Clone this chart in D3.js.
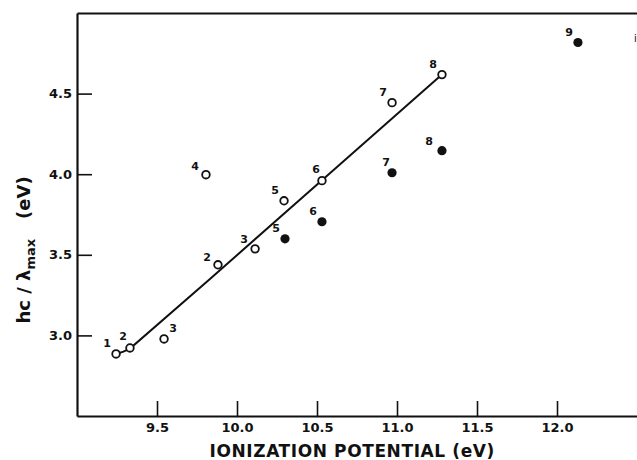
<!DOCTYPE html>
<html>
<head>
<meta charset="utf-8">
<script src="https://cdn.jsdelivr.net/npm/d3@7"></script>
<style>
    body { margin: 0; background: #fff; }
    #chart { width: 637px; height: 460px; }
    text { font-family: "DejaVu Sans", sans-serif; font-weight: bold; fill: #111; }
</style>
</head>
<body>
<div id="chart"></div>
<script>
//Datos
const openLabels = ['1', '2', '3', '2', '3', '4', '5', '6', '7', '8'],
    openX = [9.244, 9.331, 9.544, 9.881, 10.113, 9.806, 10.294, 10.531, 10.969, 11.281],
    openY = [2.885, 2.922, 2.978, 3.438, 3.537, 3.997, 3.835, 3.960, 4.444, 4.618];

const filledLabels = ['5', '6', '7', '8', '9'],
    filledX = [10.300, 10.531, 10.969, 11.281, 12.131],
    filledY = [3.599, 3.705, 4.009, 4.146, 4.817];

//Curva ajustada
const fitX = [9.244, 9.290, 9.331, 9.831, 10.531, 11.281],
    fitY = [2.885, 2.899, 2.918, 3.350, 3.962, 4.618];

const xTicks = [9.5, 10.0, 10.5, 11.0, 11.5, 12.0],
    yTicks = [3.0, 3.5, 4.0, 4.5];

//Desplazamiento de las etiquetas (px)
const LABEL_DX = -9, LABEL_DY = -10;
const openLabelShift = { 2: [9, -10], 1: [-7, -11], 7: [-6, -11], 3: [-11, -7], 5: [-11, -8], 4: [-11, -9] };
const filledLabelShift = { 3: [-13, -9], 2: [-6, -10] };

const COLOR_INK = '#111';

let margin = {top: 13, right: 0, bottom: 44, left: 77},
    width = 637 - margin.left - margin.right,
    height = 460 - margin.top - margin.bottom;

let svg = d3.select('#chart')
    .append('svg')
        .attr('width', width + margin.left + margin.right)
        .attr('height', height + margin.top + margin.bottom)
    .append('g')
        .attr('transform', 'translate(' + margin.left + ',' + margin.top + ')');

let x = d3.scaleLinear()
    .domain([9.0, 12.5])
    .range([0, width]);

let y = d3.scaleLinear()
    .domain([2.5, 5.0])
    .range([height, 0]);

//Ejes
let xAxis = svg.append('g')
    .attr('transform', 'translate(0,' + height + ')')
    .call(d3.axisBottom(x).tickValues(xTicks).tickSizeInner(-15).tickSizeOuter(0).tickPadding(7)
        .tickFormat(d3.format('.1f')));

let yAxis = svg.append('g')
    .call(d3.axisLeft(y).tickValues(yTicks).tickSizeInner(-15).tickSizeOuter(0).tickPadding(5)
        .tickFormat(d3.format('.1f')));

let topAxis = svg.append('g')
    .call(d3.axisTop(x).tickValues([]).tickSizeOuter(0));

[xAxis, yAxis, topAxis].forEach(function(g) {
    g.select('.domain').attr('stroke', COLOR_INK).attr('stroke-width', 2.2);
    g.selectAll('.tick line').attr('stroke', COLOR_INK).attr('stroke-width', 1.6);
    g.selectAll('.tick text')
        .style('font-size', '13px')
        .style('font-family', '"DejaVu Sans", sans-serif')
        .style('font-weight', 'bold')
        .attr('fill', COLOR_INK);
});

//Titulos de ejes
svg.append('text')
    .attr('x', x(10.72))
    .attr('y', height + 41)
    .attr('text-anchor', 'middle')
    .style('font-size', '17px')
    .style('letter-spacing', '0.6px')
    .text('IONIZATION POTENTIAL  (eV)');

let yTitle = svg.append('text')
    .attr('transform', 'translate(' + (-47) + ',' + y(3.53) + ') rotate(-90)')
    .attr('text-anchor', 'middle')
    .style('font-size', '18px');

yTitle.append('tspan').text('hc / λ');
yTitle.append('tspan').attr('dy', 5).style('font-size', '13px').text('max');
yTitle.append('tspan').attr('dy', -5).attr('dx', 20).text('(eV)');

//Curva
let fitData = fitX.map(function(d, i) { return [d, fitY[i]]; });

svg.append('path')
    .datum(fitData)
    .attr('fill', 'none')
    .attr('stroke', COLOR_INK)
    .attr('stroke-width', 2)
    .attr('d', d3.line()
        .x(function(d) { return x(d[0]); })
        .y(function(d) { return y(d[1]); })
        .curve(d3.curveLinear));

//Puntos
let openData = openX.map(function(d, i) { return {x: d, y: openY[i], label: openLabels[i], i: i}; });
let filledData = filledX.map(function(d, i) { return {x: d, y: filledY[i], label: filledLabels[i], i: i}; });

svg.selectAll('.open')
    .data(openData)
    .enter()
    .append('circle')
    .attr('class', 'open')
    .attr('cx', function(d) { return x(d.x); })
    .attr('cy', function(d) { return y(d.y); })
    .attr('r', 3.8)
    .attr('fill', '#fff')
    .attr('stroke', COLOR_INK)
    .attr('stroke-width', 1.8);

svg.selectAll('.filled')
    .data(filledData)
    .enter()
    .append('circle')
    .attr('class', 'filled')
    .attr('cx', function(d) { return x(d.x); })
    .attr('cy', function(d) { return y(d.y); })
    .attr('r', 4.6)
    .attr('fill', COLOR_INK);

function addLabels(data, shift, cls) {
    svg.selectAll('.' + cls)
        .data(data)
        .enter()
        .append('text')
        .attr('class', cls)
        .attr('x', function(d) { return x(d.x) + (shift[d.i] ? shift[d.i][0] : LABEL_DX); })
        .attr('y', function(d) { return y(d.y) + (shift[d.i] ? shift[d.i][1] : LABEL_DY); })
        .attr('text-anchor', 'middle')
        .attr('dominant-baseline', 'central')
        .style('font-size', '11px')
        .text(function(d) { return d.label; });
}

addLabels(openData, openLabelShift, 'lbl-open');
addLabels(filledData, filledLabelShift, 'lbl-filled');

//Resto del borde derecho (recorte)
svg.append('text')
    .attr('x', width - 3)
    .attr('y', y(4.82))
    .style('font-size', '10px')
    .style('font-weight', 'normal')
    .attr('fill', '#666')
    .text('i');
</script>
</body>
</html>
